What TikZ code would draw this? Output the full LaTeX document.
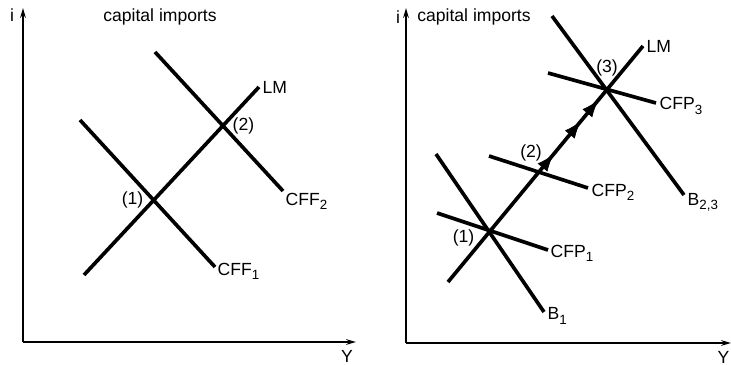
\documentclass[tikz,border=0pt]{standalone}
\usepackage{fontspec}
\setmainfont{Liberation Sans}
\usepackage{tikz}
\usetikzlibrary{arrows.meta,decorations.markings}

\newcommand{\lsub}[1]{\raisebox{-0.45ex}{\fontsize{9.5}{10}\selectfont #1}}

\begin{document}
\begin{tikzpicture}[x=0.025cm, y=-0.025cm, font=\fontsize{12.5}{14}\selectfont]
    \tikzstyle{axis} = [line width=1.3pt, -{Stealth[length=7pt,width=4pt]}]
    \tikzstyle{curve} = [line width=2.6pt]
    \tikzstyle{lbl} = [inner sep=1pt, anchor=west]
    \tikzstyle{flow} = [postaction={decorate}, decoration={markings,
        mark=at position 0.54 with {\arrow[line width=0.5pt]{Latex[length=12pt,width=9pt]}},
        mark=at position 0.68 with {\arrow[line width=0.5pt]{Latex[length=12pt,width=9pt]}},
        mark=at position 0.77 with {\arrow[line width=0.5pt]{Latex[length=12pt,width=9pt]}}}]

    \useasboundingbox (0,0) rectangle (731,365);

    % left panel
    \coordinate (o1) at (23,342);
    \coordinate (yt1) at (23,8);
    \coordinate (xt1) at (356,342);
    \draw [axis] (o1) -- (yt1);
    \draw [axis] (o1) -- (xt1);
    \node (i1) at (12,15) {i};
    \node (y1) at (347,356) {Y};
    \node (title1) at (160,17) {capital imports};

    \coordinate (lm1a) at (84,275);
    \coordinate (lm1b) at (259,87);
    \coordinate (cff1a) at (80,120);
    \coordinate (cff1b) at (215,267);
    \coordinate (cff2a) at (155,52);
    \coordinate (cff2b) at (283,191);
    \draw [curve] (lm1a) -- (lm1b);
    \draw [curve] (cff1a) -- (cff1b);
    \draw [curve] (cff2a) -- (cff2b);

    \node [lbl] (lm1) at (261,87) {LM};
    \node [lbl] (cff1) at (216,271) {CFF\lsub{1}};
    \node [lbl] (cff2) at (284,201) {CFF\lsub{2}};
    \node [lbl, anchor=east] (pt1) at (145,200) {(1)};
    \node [lbl] (pt2) at (231,126) {(2)};

    % right panel
    \coordinate (o2) at (406,343);
    \coordinate (yt2) at (406,8);
    \coordinate (xt2) at (731,343);
    \draw [axis] (o2) -- (yt2);
    \draw [axis] (o2) -- (xt2);
    \node (i2) at (398,17) {i};
    \node [anchor=east, inner sep=1pt] (y2) at (731,357) {Y};
    \node (title2) at (474,17) {capital imports};

    \coordinate (lm2a) at (448,282);
    \coordinate (lm2b) at (643,46);
    \coordinate (b1a) at (436,154);
    \coordinate (b1b) at (544,312);
    \coordinate (cfp1a) at (437,213);
    \coordinate (cfp1b) at (548,250);
    \coordinate (cfp2a) at (489,156);
    \coordinate (cfp2b) at (588,188);
    \coordinate (cfp3a) at (548,73);
    \coordinate (cfp3b) at (656,103);
    \coordinate (b23a) at (552,16);
    \coordinate (b23b) at (684,195);
    \draw [curve, flow] (lm2a) -- (lm2b);
    \draw [curve] (b1a) -- (b1b);
    \draw [curve] (cfp1a) -- (cfp1b);
    \draw [curve] (cfp2a) -- (cfp2b);
    \draw [curve] (cfp3a) -- (cfp3b);
    \draw [curve] (b23a) -- (b23b);

    \node [lbl] (lm2) at (645,46) {LM};
    \node [lbl] (b1) at (546,316) {B\lsub{1}};
    \node [lbl] (cfp1) at (549,253) {CFP\lsub{1}};
    \node [lbl] (cfp2) at (590,192) {CFP\lsub{2}};
    \node [lbl] (cfp3) at (658,106) {CFP\lsub{3}};
    \node [lbl] (b23) at (686,202) {B\lsub{2,3}};
    \node [lbl, anchor=east] (pt1r) at (476,238) {(1)};
    \node [lbl, anchor=center] (pt2r) at (531,153) {(2)};
    \node [lbl, anchor=center] (pt3r) at (607,68) {(3)};
\end{tikzpicture}
\end{document}
